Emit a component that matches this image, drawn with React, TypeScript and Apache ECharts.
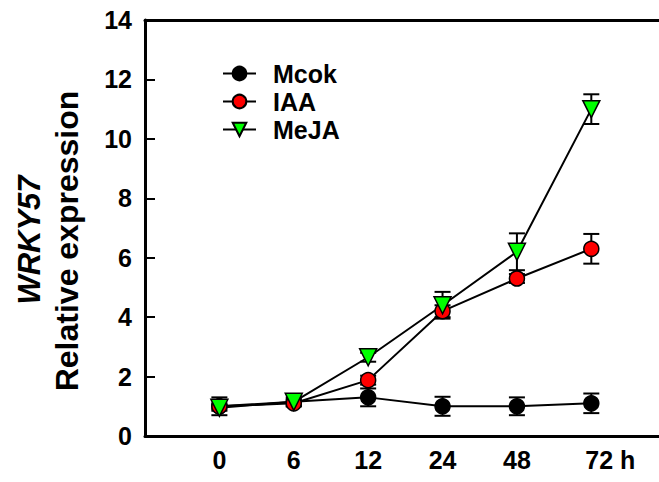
import React, { useEffect, useRef } from "react";
import * as echarts from "echarts";

const categories = ["0", "6", "12", "24", "48", "72"];
const xPos = [1, 2, 3, 4, 5, 6];
const mcok = [1.0, 1.15, 1.3, 1.0, 1.0, 1.1];
const mcokErr = [0.3, 0.15, 0.3, 0.32, 0.3, 0.33];
const iaa = [1.0, 1.1, 1.88, 4.2, 5.3, 6.3];
const iaaErr = [0.1, 0.1, 0.15, 0.2, 0.15, 0.5];
const meja = [0.95, 1.15, 2.65, 4.4, 6.2, 11.0];
const mejaErr = [0.1, 0.1, 0.15, 0.45, 0.62, 0.5];
const yTicks = [0, 2, 4, 6, 8, 10, 12, 14];

const FONT = '"Liberation Sans", Arial, sans-serif';

function errSeries(name: string, vals: number[], errs: number[]) {
  return {
    type: "custom",
    name: name + "-err",
    z: 1,
    silent: true,
    data: xPos.map((x, i) => [x, vals[i] - errs[i], vals[i] + errs[i]]),
    renderItem: (params: any, api: any) => {
      const lo = api.coord([api.value(0), api.value(1)]);
      const hi = api.coord([api.value(0), api.value(2)]);
      const w = 8;
      const style = { stroke: "#000", lineWidth: 2 };
      return {
        type: "group",
        children: [
          { type: "line", shape: { x1: lo[0], y1: lo[1], x2: hi[0], y2: hi[1] }, style },
          { type: "line", shape: { x1: hi[0] - w, y1: hi[1], x2: hi[0] + w, y2: hi[1] }, style },
          { type: "line", shape: { x1: lo[0] - w, y1: lo[1], x2: lo[0] + w, y2: lo[1] }, style },
        ],
      };
    },
  };
}

export default function App() {
  const ref = useRef<HTMLDivElement>(null);
  useEffect(() => {
    const chart = echarts.init(ref.current!, undefined, { renderer: "svg" });
    const lineSeries = (name: string, vals: number[], symbol: string, size: number, color: string, rotate = 0) => ({
      type: "line",
      name,
      z: 3,
      data: xPos.map((x, i) => [x, vals[i]]),
      symbol,
      symbolSize: size,
      symbolRotate: rotate,
      showAllSymbol: true,
      lineStyle: { color: "#000", width: 2 },
      itemStyle: { color, borderColor: "#000", borderWidth: 1.5 },
    });
    chart.setOption({
      animation: false,
      grid: { left: 145, right: 0, top: 20, bottom: 46 },
      legend: {
        orient: "vertical",
        left: 217,
        top: 56,
        itemWidth: 33,
        itemHeight: 17,
        itemGap: 3,
        data: ["Mcok", "IAA", "MeJA"],
        textStyle: { fontFamily: FONT, fontSize: 25, fontWeight: "bold", color: "#000", padding: [0, 0, 0, 12] },
      },
      xAxis: [
        {
          type: "value",
          min: 0,
          max: 6.91,
          interval: 1,
          axisLine: { lineStyle: { color: "#000", width: 3 } },
          axisTick: { show: false },
          splitLine: { show: false },
          axisLabel: {
            margin: 11,
            fontFamily: FONT,
            fontSize: 25,
            fontWeight: "bold",
            color: "#000",
            showMaxLabel: false,
            formatter: (v: number) => {
              const i = Math.round(v) - 1;
              if (i < 0 || i >= categories.length || Math.abs(v - Math.round(v)) > 1e-6) return "";
              if (i === categories.length - 1) return "{h|" + categories[i] + " h}";
              return categories[i];
            },
            rich: {
              h: { fontFamily: FONT, fontSize: 25, fontWeight: "bold", color: "#000", padding: [0, 0, 0, 38] },
            },
          },
        },
        {
          type: "value",
          position: "top",
          min: 0,
          max: 6.91,
          axisLine: { show: true, lineStyle: { color: "#000", width: 3 } },
          axisTick: { show: false },
          axisLabel: { show: false },
          splitLine: { show: false },
        },
      ],
      yAxis: {
        type: "value",
        min: yTicks[0],
        max: yTicks[yTicks.length - 1],
        interval: 2,
        axisLine: { show: true, lineStyle: { color: "#000", width: 3 } },
        axisTick: { show: true, inside: true, length: 10, lineStyle: { color: "#000", width: 2 } },
        splitLine: { show: false },
        axisLabel: { margin: 13, fontFamily: FONT, fontSize: 25, fontWeight: "bold", color: "#000" },
      },
      graphic: [
        {
          type: "text",
          x: 29,
          y: 240,
          rotation: Math.PI / 2,
          style: {
            text: "WRKY57",
            fontFamily: FONT,
            fontSize: 31,
            fontWeight: "bold",
            fontStyle: "italic",
            fill: "#000",
            textAlign: "center",
            textVerticalAlign: "middle",
          },
        },
        {
          type: "text",
          x: 67,
          y: 241,
          rotation: Math.PI / 2,
          style: {
            text: "Relative expression",
            fontFamily: FONT,
            fontSize: 32,
            fontWeight: "bold",
            fill: "#000",
            textAlign: "center",
            textVerticalAlign: "middle",
          },
        },
      ],
      series: [
        errSeries("Mcok", mcok, mcokErr),
        errSeries("IAA", iaa, iaaErr),
        errSeries("MeJA", meja, mejaErr),
        lineSeries("Mcok", mcok, "circle", 15, "#000"),
        lineSeries("IAA", iaa, "circle", 15, "#ff0000"),
        lineSeries("MeJA", meja, "triangle", 17, "#00ff00", 180),
      ],
    });
    return () => chart.dispose();
  }, []);
  return <div ref={ref} style={{ position: "absolute", left: 0, top: 0, width: 659, height: 482 }} />;
}
